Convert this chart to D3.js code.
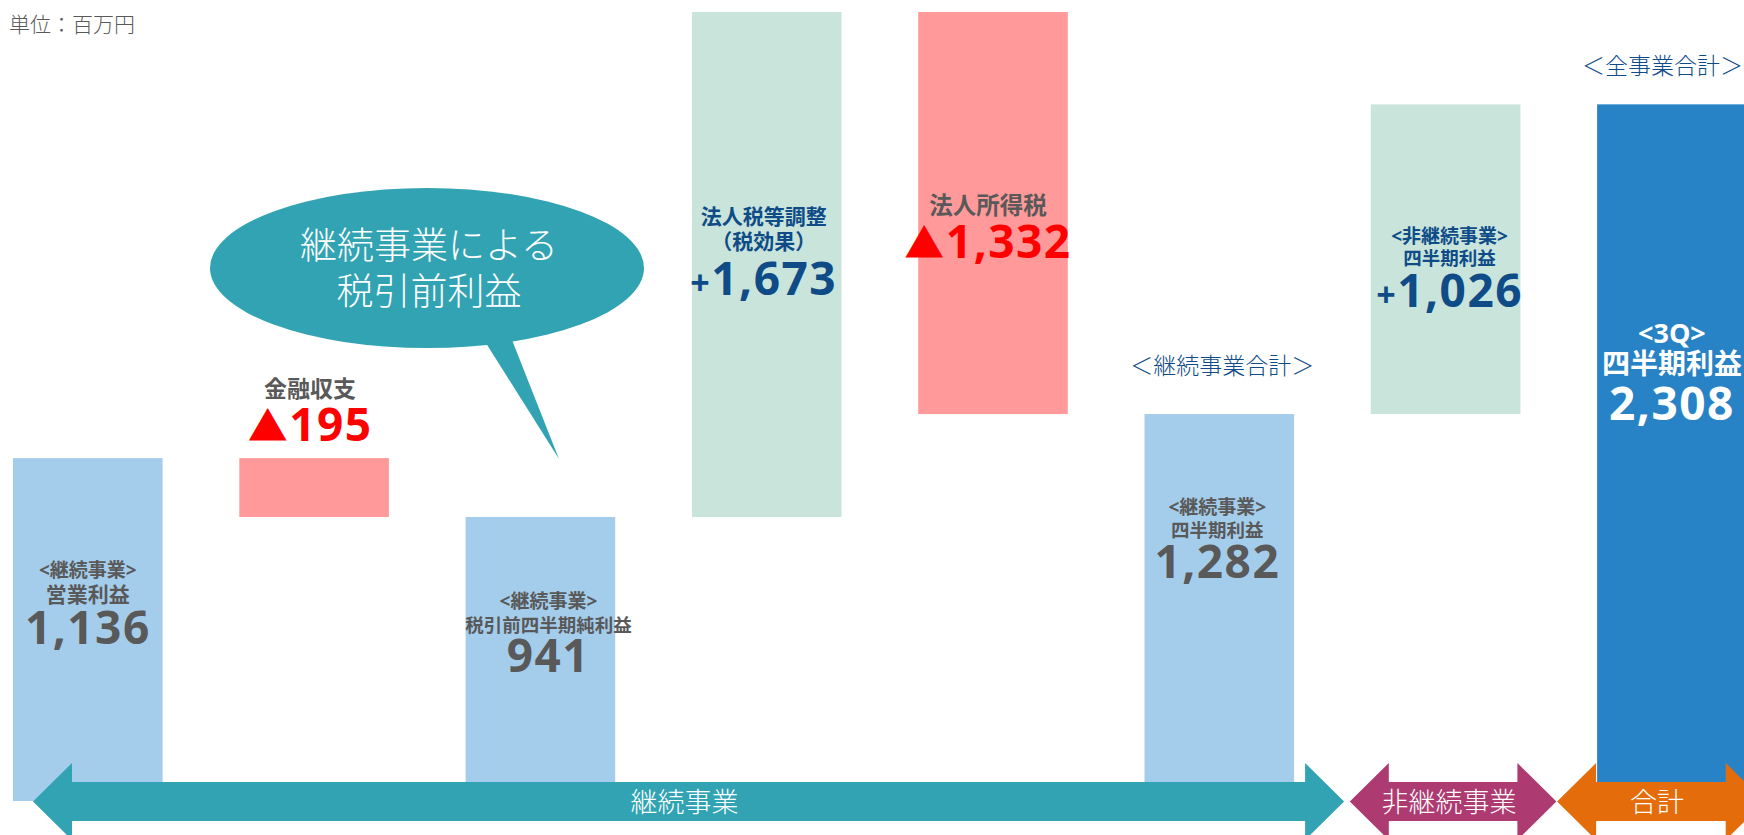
<!DOCTYPE html>
<html>
<head>
    <meta charset="utf-8">
    <title>waterfall</title>
    <script type="text/javascript" src="https://cdn.jsdelivr.net/npm/d3@7"></script>
    <style>
      body { margin: 0; background: #fff; overflow: hidden; }
      text { font-family: "Open Sans", "Noto Sans CJK JP", sans-serif; }
    </style>
</head>
<body>
<script type="text/javascript">

        // data
        var categories = ["営業利益", "金融収支", "税引前四半期純利益", "法人税等調整", "法人所得税", "継続事業四半期利益", "非継続事業四半期利益", "四半期利益"]
        var values = [1136, -195, 941, 1673, -1332, 1282, 1026, 2308]
        var isTotal = [true, false, true, false, false, true, false, true]
        var headLines = [
            ["<継続事業>", "営業利益"],
            ["金融収支"],
            ["<継続事業>", "税引前四半期純利益"],
            ["法人税等調整", "（税効果）"],
            ["法人所得税"],
            ["<継続事業>", "四半期利益"],
            ["<非継続事業>", "四半期利益"],
            ["<3Q>", "四半期利益"]
        ]
        var groupNames = ["継続事業", "非継続事業", "合計"]
        var groupSpans = [[0, 5], [6, 6], [7, 7]]
        var sectionTitles = ["＜継続事業合計＞", "＜全事業合計＞"]
        var sectionBars = [5, 7]
        var calloutLines = ["継続事業による", "税引前利益"]
        var unitLabel = "単位：百万円"

        var width = 1744
        var height = 835

        var svg = d3.select("body").append("svg").attr("width", width).attr("height", height)

        // waterfall running totals
        var run = 0
        var rows = categories.map(function(c, i) {
            var s, e
            if (isTotal[i]) { s = 0; e = values[i] } else { s = run; e = run + values[i] }
            run = e
            return {cat: c, v: values[i], s: s, e: e, i: i, total: isTotal[i]}
        })

        var x = d3.scaleBand().domain(categories).range([13, 1746.7]).paddingInner(0.339).paddingOuter(0)
        var y = d3.scaleLinear().domain([0, d3.max(rows, function(d) { return Math.max(d.s, d.e) })]).range([801, 12])
        var bw = x.bandwidth()

        function barColor(d) {
            if (d.total) return d.i === rows.length - 1 ? "#2783c6" : "#a4cdec"
            return d.v < 0 ? "#ff999a" : "#c8e4db"
        }

        svg.selectAll("rect.bar")
            .data(rows)
            .enter()
            .append("rect")
            .attr("class", "bar")
            .attr("x", function(d) { return x(d.cat) })
            .attr("width", bw)
            .attr("y", function(d) { return y(Math.max(d.s, d.e)) })
            .attr("height", function(d) { return y(Math.min(d.s, d.e)) - y(Math.max(d.s, d.e)) })
            .attr("fill", barColor)

        // label layout, offsets from bar top
        var gray = "#595959", navy = "#0f4c87", red = "#ff0000"
        var layout = [
            {dx: 0,  lines: [[119, 19], [144, 21]], vdy: 186, c: gray, vc: gray},
            {dx: -4, lines: [[-61, 23]], vdy: -17, c: gray, vc: red},
            {dx: 8,  lines: [[91, 19], [115, 18.5]], vdy: 155, c: gray, vc: gray},
            {dx: -3, lines: [[212, 21], [237, 21]], vdy: 283, c: navy, vc: navy},
            {dx: -5, lines: [[202, 23.5]], vdy: 246, c: gray, vc: red},
            {dx: -2, lines: [[100, 19], [123, 18.5]], vdy: 164, c: gray, vc: gray},
            {dx: 4,  lines: [[139, 19], [161, 18.5]], vdy: 203, c: navy, vc: navy},
            {dx: 0,  lines: [[239, 27], [270, 28]], vdy: 316, c: "#fff", vc: "#fff"}
        ]
        var fmt = d3.format(",")

        rows.forEach(function(d, i) {
            var L = layout[i]
            var cx = x(d.cat) + bw / 2 + L.dx
            var top = y(Math.max(d.s, d.e))
            headLines[i].forEach(function(t, k) {
                svg.append("text")
                    .attr("x", cx).attr("y", top + L.lines[k][0])
                    .attr("text-anchor", "middle")
                    .attr("font-size", L.lines[k][1])
                    .attr("font-weight", 700)
                    .attr("fill", L.c)
                    .text(t)
            })
            var vt = svg.append("text")
                .attr("x", cx).attr("y", top + L.vdy)
                .attr("text-anchor", "middle")
                .attr("font-size", 46)
                .attr("font-weight", 700)
                .attr("letter-spacing", 1.5)
                .attr("fill", L.vc)
            if (!d.total && d.v > 0) vt.append("tspan").attr("font-size", 34).text("+")
            if (!d.total && d.v < 0) vt.append("tspan").attr("font-size", 40).attr("font-family", "Noto Sans CJK JP").text("▲")
            vt.append("tspan").text(fmt(Math.abs(d.v)))
        })

        // section titles
        sectionBars.forEach(function(b, k) {
            var d = rows[b]
            var t = svg.append("text")
                .attr("y", y(Math.max(d.s, d.e)) + (k === 0 ? -40 : -30))
                .attr("font-family", "Noto Sans CJK JP")
                .attr("font-size", 23)
                .attr("font-weight", 300)
                .attr("fill", navy)
                .text(sectionTitles[k])
            if (k === 0) t.attr("x", x(d.cat) + bw / 2 + 3).attr("text-anchor", "middle")
            else t.attr("x", width - 1).attr("text-anchor", "end")
        })

        // unit
        svg.append("text")
            .attr("x", 9).attr("y", 32)
            .attr("font-family", "Noto Sans CJK JP")
            .attr("font-size", 21)
            .attr("font-weight", 300)
            .attr("fill", gray)
            .text(unitLabel)

        // callout bubble
        var teal = "#31a3b3"
        var cb = {cx: 427, cy: 268, rx: 217, ry: 80}
        svg.append("ellipse")
            .attr("cx", cb.cx).attr("cy", cb.cy).attr("rx", cb.rx).attr("ry", cb.ry)
            .attr("fill", teal)
        svg.append("path")
            .attr("d", "M484,340 L559,459 L512,340 Z")
            .attr("fill", teal)
        calloutLines.forEach(function(t, k) {
            svg.append("text")
                .attr("x", cb.cx + 2).attr("y", 259 + k * 46)
                .attr("text-anchor", "middle")
                .attr("font-family", "Noto Sans CJK JP")
                .attr("font-size", 37)
                .attr("font-weight", 300)
                .attr("fill", "#fff")
                .text(t)
        })

        // bottom double arrows
        var arrowColors = ["#31a3b2", "#ad3b72", "#e46c0a"]
        var arrowPad = [[-20, 50], [21, 36], [40, 18]]
        var ay = y(0) + 0.5, bodyH = 19.5, headH = 38.5, headL = 39
        groupSpans.forEach(function(sp, k) {
            var x0 = x(categories[sp[0]]) - arrowPad[k][0]
            var x1 = x(categories[sp[1]]) + bw + arrowPad[k][1]
            var p = d3.path()
            p.moveTo(x0, ay)
            p.lineTo(x0 + headL, ay - headH)
            p.lineTo(x0 + headL, ay - bodyH)
            p.lineTo(x1 - headL, ay - bodyH)
            p.lineTo(x1 - headL, ay - headH)
            p.lineTo(x1, ay)
            p.lineTo(x1 - headL, ay + headH)
            p.lineTo(x1 - headL, ay + bodyH)
            p.lineTo(x0 + headL, ay + bodyH)
            p.lineTo(x0 + headL, ay + headH)
            p.closePath()
            svg.append("path").attr("d", p.toString()).attr("fill", arrowColors[k])
            svg.append("text")
                .attr("x", (x0 + x1) / 2 - 4).attr("y", ay + 10)
                .attr("text-anchor", "middle")
                .attr("font-family", "Noto Sans CJK JP")
                .attr("font-size", 27)
                .attr("font-weight", 300)
                .attr("fill", "#fff")
                .text(groupNames[k])
        })
</script>
</body>
</html>
